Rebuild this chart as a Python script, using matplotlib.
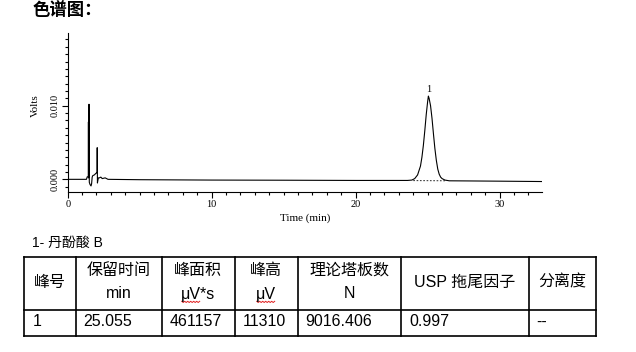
import matplotlib
matplotlib.use("Agg")
import matplotlib.pyplot as plt
from matplotlib.ticker import MultipleLocator, FormatStrFormatter

# ---------------- data ----------------
time_min = [0.0, 1.30, 1.36, 1.43, 1.44, 1.45, 1.47, 1.48, 1.50, 1.55, 1.62, 1.66,
            1.70, 1.74, 1.85, 1.95, 2.02, 2.04, 2.05, 2.065, 2.09, 2.13, 2.20, 2.30,
            2.40, 2.60, 2.80, 5.0, 10.0, 15.0, 20.0, 23.6, 23.9, 24.1, 24.3, 24.5,
            24.6, 24.7, 24.8, 24.9, 25.0, 25.05, 25.1, 25.2, 25.3, 25.4, 25.5, 25.6,
            25.7, 25.8, 25.9, 26.0, 26.2, 26.5, 28.0, 30.0, 33.0]
volts = [0.0, 0.0, 0.00035, 0.0003, 0.0078, 0.0002, 0.0003, 0.0102, -0.0004, -0.0007,
         -0.0009, -0.0006, 0.0003, 0.0005, 0.0006, 0.0008, 0.0009, 0.0010, 0.0043,
         -0.0005, -0.0002, 0.0002, 0.0002, 0.0003, 0.0001, 0.0002, 0.0, -0.00005,
         -0.0001, -0.00012, -0.00015, -0.00015, -0.0001, 0.0001, 0.0006, 0.0018,
         0.0030, 0.0046, 0.0066, 0.0088, 0.0106, 0.01131, 0.0110, 0.0100, 0.0083,
         0.0062, 0.0042, 0.0026, 0.0014, 0.0007, 0.0003, 0.0001, -0.0001, -0.0002,
         -0.00022, -0.00025, -0.0003]
baseline_t = [24.0, 26.3]
baseline_v = [-0.00018, -0.0002]
peak_names = ["1"]
peak_times = [25.055]
peak_heights = [0.01131]

title_text = "色谱图："
compound_text = "1- 丹酚酸 B"
header_line1 = ["峰号", "保留时间", "峰面积", "峰高", "理论塔板数", "USP 拖尾因子", "分离度"]
header_line2 = ["", "min", "μV*s", "μV", "N", "", ""]
row_values = ["1", "25.055", "461157", "11310", "9016.406", "0.997", "--"]

# ---------------- figure ----------------
W, H = 636, 352
fig = plt.figure(figsize=(W / 100, H / 100), dpi=100)

serif = "Liberation Serif"
ax = fig.add_axes([67.7 / W, 1 - 191.7 / H, (542 - 67.7) / W, (191.7 - 33.3) / H])
ax.plot(time_min, volts, color="black", lw=0.8)
ax.plot(baseline_t, baseline_v, color="black", lw=0.6, ls=(0, (2, 2)))
for n, t, h in zip(peak_names, peak_times, peak_heights):
    ax.text(t, h + 0.0003, n, ha="center", va="bottom", fontsize=7.5, family=serif)

ax.set_xlim(0, 32.94)
ax.set_ylim(-0.00168, 0.01984)
ax.spines["top"].set_visible(False)
ax.spines["right"].set_visible(False)
for s in ("left", "bottom"):
    ax.spines[s].set_linewidth(0.8)
ax.xaxis.set_major_locator(MultipleLocator(10))
ax.xaxis.set_minor_locator(MultipleLocator(1))
ax.yaxis.set_major_locator(MultipleLocator(0.010))
ax.yaxis.set_minor_locator(MultipleLocator(0.001))
ax.yaxis.set_major_formatter(FormatStrFormatter("%.3f"))
ax.tick_params(which="major", direction="out", length=4, width=0.8, labelsize=7.5, pad=2)
ax.tick_params(which="minor", direction="out", length=2, width=0.8)
for lab in ax.get_xticklabels() + ax.get_yticklabels():
    lab.set_family(serif)
for lab in ax.get_yticklabels():
    lab.set_rotation(90)
    lab.set_va("center")
ax.set_xlabel("Time (min)", fontsize=8, family=serif, labelpad=3)
ax.set_ylabel("Volts", fontsize=8, family=serif, labelpad=3)
ax.yaxis.set_label_coords(-0.058, (191.7 - 106) / (191.7 - 33.3))

# ---------------- overlay for title / table ----------------
ov = fig.add_axes([0, 0, 1, 1], zorder=5)
ov.set_xlim(0, W)
ov.set_ylim(H, 0)
ov.axis("off")
ov.patch.set_alpha(0)

cjk = ["Liberation Sans", "Noto Sans CJK SC"]
ov.text(33, 10, title_text, fontsize=12.5, fontweight="bold", family=["Noto Sans CJK SC"],
        ha="left", va="center")
ov.text(32, 243, compound_text, fontsize=10, family=cjk, ha="left", va="center")

col_x = [24.3, 75.7, 161.7, 234.7, 297.7, 401.3, 528.7, 596.3]
row_y = [256.7, 310, 335.7]
lw = 1.2
for y in row_y:
    ov.plot([col_x[0], col_x[-1]], [y, y], color="black", lw=lw, solid_capstyle="projecting")
for x in col_x:
    ov.plot([x, x], [row_y[0], row_y[-1]], color="black", lw=lw, solid_capstyle="projecting")

fs = 11.5
for i in range(len(header_line1)):
    cx = (col_x[i] + col_x[i + 1]) / 2
    if header_line2[i]:
        ov.text(cx, 270, header_line1[i], fontsize=fs, family=cjk, ha="center", va="center")
        ov.text(cx, 294, header_line2[i], fontsize=fs, family=cjk, ha="center", va="center")
    else:
        ov.text(cx, 282, header_line1[i], fontsize=fs, family=cjk, ha="center", va="center")
    ov.text(col_x[i] + 8, 322, row_values[i], fontsize=fs, family=cjk, ha="left", va="center")

# red wavy spell-check underlines
def wavy(x0, x1, y):
    xs, ys = [], []
    x = x0
    k = 0
    while x <= x1:
        xs.append(x)
        ys.append(y + (1 if k % 2 else -0.2))
        x += 1.5
        k += 1
    ov.plot(xs, ys, color="#e02020", lw=0.7)

wavy(181.7, 200, 301.5)
wavy(256.7, 275, 301.5)

fig.savefig("out.png", dpi=100)
